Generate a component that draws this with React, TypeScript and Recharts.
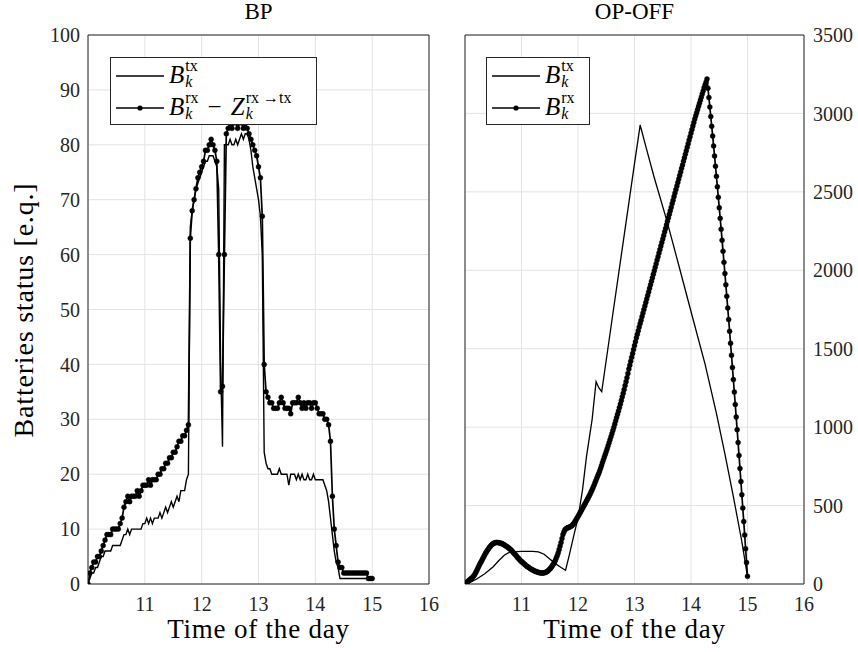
import React from 'react';
import { LineChart, Line, XAxis, YAxis, CartesianGrid, Legend } from 'recharts';

// ---------- data ----------
// Sampling grid: time of day in hours, starting at 10:00
const START_HOUR = 10;
const BP_STEP_MIN = 2; // BP panel sampled every 2 minutes (10:00 .. 15:00)
const OP_STEP_MIN = 1; // OP-OFF B^rx sampled every minute (10:00 .. 15:00)

// BP panel: B_k^tx (plain line)
const bpTx = [
  0, 1, 2, 2, 3, 3, 4, 5, 5, 6,
  6, 6, 6, 7, 7, 7, 7, 7, 8, 9,
  9, 10, 9, 10, 10, 10, 10, 10, 10, 11,
  11, 12, 11, 12, 11, 12, 12, 12, 13, 12,
  13, 14, 13, 14, 15, 14, 15, 16, 15, 17,
  17, 17, 19, 20, 65, 68, 70, 72, 73, 74,
  75, 76, 77, 77, 78, 78, 78, 77, 76, 72,
  40, 25, 80, 80, 80, 81, 80, 80, 81, 80,
  81, 82, 81, 82, 82, 81, 79, 76, 74, 72,
  70, 67, 60, 24, 22, 21, 21, 20, 20, 20,
  20, 21, 20, 20, 20, 20, 18, 20, 20, 20,
  19, 20, 19, 20, 19, 19, 20, 19, 19, 20,
  19, 19, 19, 19, 19, 18, 17, 15, 12, 9,
  6, 4, 3, 1, 1, 1, 1, 1, 1, 1,
  1, 1, 1, 1, 1, 1, 1, 1, 1, 1,
  1,
];

// BP panel: B_k^rx - Z_k^{rx->tx} (line with markers)
const bpRx = [
  0, 2, 3, 4, 4, 5, 5, 6, 7, 8,
  9, 9, 9, 10, 10, 10, 10, 11, 12, 14,
  15, 16, 15, 16, 16, 16, 17, 16, 17, 18,
  18, 18, 19, 18, 19, 19, 19, 20, 20, 21,
  21, 22, 22, 23, 23, 24, 24, 25, 26, 26,
  27, 27, 28, 29, 63, 68, 70, 72, 74, 75,
  76, 77, 79, 79, 80, 81, 80, 79, 77, 60,
  35, 36, 60, 82, 83, 84, 83, 84, 84, 83,
  84, 84, 83, 84, 83, 82, 81, 80, 79, 78,
  76, 74, 67, 40, 35, 34, 33, 33, 32, 32,
  32, 33, 34, 33, 32, 32, 32, 31, 33, 33,
  33, 34, 33, 32, 33, 32, 33, 33, 32, 33,
  33, 32, 31, 31, 31, 30, 30, 29, 26, 16,
  10, 7, 4, 3, 3, 2, 2, 2, 2, 2,
  2, 2, 2, 2, 2, 2, 2, 2, 1, 1,
  1,
];

// OP-OFF panel: B_k^tx (plain line), read at key times
const opTxTime = [
  10.0, 10.1, 10.2, 10.35, 10.5, 10.6, 10.7, 10.8, 11.0, 11.2,
  11.3, 11.4, 11.5, 11.6, 11.7, 11.78, 11.85, 11.92, 12.0, 12.08,
  12.15, 12.25, 12.32, 12.37, 12.42, 12.6, 12.8, 13.0, 13.1, 13.2,
  13.35, 13.57, 13.8, 14.04, 14.25, 14.45, 14.6, 14.75, 14.9, 15.0,
];
const opTxValue = [
  0, 12, 30, 65, 110, 150, 185, 205, 208, 208,
  205, 190, 160, 130, 105, 88, 190, 300, 420, 600,
  812, 1050, 1290, 1250, 1226, 1680, 2180, 2680, 2926, 2790,
  2590, 2320, 2010, 1683, 1400, 1088, 830, 557, 270, 47,
];

// OP-OFF panel: B_k^rx (line with markers), one value per minute
const opRx = [
  0, 5, 10, 16, 22, 27, 32, 37, 42, 50,
  58, 69, 80, 92, 105, 118, 130, 141, 152, 164,
  175, 187, 198, 207, 216, 225, 234, 241, 248, 253,
  258, 261, 263, 264, 265, 264, 263, 262, 260, 258,
  255, 252, 248, 244, 240, 236, 232, 227, 222, 216,
  210, 203, 196, 190, 183, 176, 168, 162, 155, 149,
  143, 138, 133, 128, 122, 117, 112, 108, 104, 100,
  96, 92, 89, 86, 83, 80, 78, 76, 74, 72,
  71, 70, 70, 70, 71, 73, 75, 79, 83, 89,
  95, 102, 110, 119, 128, 140, 152, 167, 182, 200,
  220, 242, 265, 290, 315, 332, 345, 351, 355, 358,
  360, 363, 366, 370, 375, 382, 390, 400, 410, 420,
  430, 441, 452, 463, 474, 485, 496, 507, 518, 529,
  540, 551, 563, 575, 588, 601, 615, 630, 645, 660,
  675, 690, 705, 721, 738, 756, 775, 792, 810, 827,
  845, 863, 882, 901, 920, 939, 958, 978, 998, 1019,
  1040, 1061, 1082, 1103, 1125, 1147, 1170, 1193, 1216, 1240,
  1265, 1290, 1315, 1342, 1370, 1395, 1420, 1445, 1470, 1495,
  1520, 1545, 1570, 1592, 1615, 1638, 1660, 1682, 1705, 1727,
  1750, 1772, 1795, 1817, 1840, 1862, 1885, 1907, 1930, 1952,
  1975, 1997, 2020, 2042, 2065, 2087, 2110, 2132, 2155, 2177,
  2200, 2222, 2245, 2267, 2290, 2312, 2335, 2357, 2380, 2402,
  2425, 2447, 2470, 2492, 2515, 2537, 2560, 2582, 2605, 2627,
  2650, 2672, 2695, 2717, 2740, 2762, 2785, 2807, 2830, 2852,
  2875, 2897, 2920, 2942, 2965, 2985, 3005, 3025, 3045, 3065,
  3085, 3105, 3125, 3145, 3165, 3183, 3200, 3220, 3161, 3101,
  3041, 2980, 2918, 2856, 2793, 2729, 2664, 2599, 2533, 2466,
  2399, 2331, 2262, 2192, 2122, 2051, 1979, 1907, 1834, 1760,
  1686, 1611, 1535, 1458, 1381, 1303, 1224, 1145, 1065, 984,
  902, 820, 737, 653, 569, 484, 398, 312, 225, 137,
  49,
];

const xTickLabels = [11, 12, 13, 14, 15, 16];
const xTicksAll = [10, 11, 12, 13, 14, 15, 16];
const bpYTicks = [0, 10, 20, 30, 40, 50, 60, 70, 80, 90, 100];
const opYTicks = [0, 500, 1000, 1500, 2000, 2500, 3000, 3500];

// ---------- derived tables ----------
const minToHour = (m: number) => START_HOUR + m / 60;
const bpData = bpTx.map((v, i) => ({ t: minToHour(i * BP_STEP_MIN), tx: v, rx: bpRx[i] }));
const opTxData = opTxTime.map((t, i) => ({ t, v: opTxValue[i] }));
const opRxData = opRx.map((v, i) => ({ t: minToHour(i * OP_STEP_MIN), v }));

// ---------- styling ----------
const AX = '#262626';
const GRID = '#e3e3e3';
const FONT = '"Liberation Serif", "Times New Roman", serif';
const tickStyle = { fontSize: 20, fill: AX, fontFamily: FONT };

const MathSym = ({ base, sup, sub }: { base: string; sup: string; sub: string }) => (
  <span style={{ display: 'inline-flex', alignItems: 'flex-start', fontFamily: FONT, color: '#000' }}>
    <span style={{ fontStyle: 'italic', fontSize: 25, lineHeight: '25px' }}>{base}</span>
    <span
      style={{
        display: 'inline-flex',
        flexDirection: 'column',
        fontSize: 16,
        lineHeight: '16px',
        marginLeft: 1,
        marginTop: -4,
      }}
    >
      <span>{sup}</span>
      <span style={{ fontStyle: 'italic' }}>{sub}</span>
    </span>
  </span>
);

const LegendBox = ({ width, rows }: { width: number; rows: { marker: boolean; label: React.ReactNode }[] }) => (
  <div
    style={{
      width,
      height: 68,
      border: `1px solid ${AX}`,
      background: '#fff',
      boxSizing: 'border-box',
      position: 'relative',
    }}
  >
    {rows.map((r, i) => (
      <div
        key={i}
        style={{
          position: 'absolute',
          left: 5,
          top: i === 0 ? 3 : 35,
          height: 30,
          display: 'flex',
          alignItems: 'center',
        }}
      >
        <svg width={48} height={10} style={{ display: 'block' }}>
          <line x1={0} y1={5} x2={48} y2={5} stroke="#000" strokeWidth={1.5} />
          {r.marker && <circle cx={24} cy={5} r={2.6} fill="#000" />}
        </svg>
        <div style={{ marginLeft: 5, display: 'flex', alignItems: 'center' }}>{r.label}</div>
      </div>
    ))}
  </div>
);

const bpLegendRows = [
  { marker: false, label: <MathSym base="B" sup="tx" sub="k" /> },
  {
    marker: true,
    label: (
      <span style={{ display: 'inline-flex', alignItems: 'flex-start' }}>
        <MathSym base="B" sup="rx" sub="k" />
        <span style={{ fontFamily: FONT, fontSize: 25, lineHeight: '25px', margin: '0 9px' }}>−</span>
        <MathSym base="Z" sup="rx →tx" sub="k" />
      </span>
    ),
  },
];
const opLegendRows = [
  { marker: false, label: <MathSym base="B" sup="tx" sub="k" /> },
  { marker: true, label: <MathSym base="B" sup="rx" sub="k" /> },
];

const dotStyle = { r: 2.5, fill: '#000', stroke: '#000', strokeWidth: 0.4 };

const textAbs = (extra: React.CSSProperties): React.CSSProperties => ({
  position: 'absolute',
  fontFamily: FONT,
  color: '#000',
  whiteSpace: 'nowrap',
  ...extra,
});

export default function App() {
  return (
    <div style={{ position: 'absolute', left: 0, top: 0, width: 858, height: 652, background: '#fff', overflow: 'hidden' }}>
      {/* Left panel: BP */}
      <div style={{ position: 'absolute', left: 0, top: 0 }}>
        <LineChart width={440} height={652} data={bpData} margin={{ top: 35, right: 11, bottom: 28, left: 28 }}>
          <CartesianGrid stroke={GRID} strokeWidth={1} />
          <XAxis
            dataKey="t"
            type="number"
            domain={[10, 16]}
            ticks={xTickLabels}
            interval={0}
            allowDataOverflow
            tickLine={false}
            axisLine={false}
            tickSize={0}
            tickMargin={13}
            height={40}
            tick={tickStyle}
          />
          <XAxis xAxisId="bm" type="number" domain={[10, 16]} ticks={xTicksAll} interval={0} orientation="bottom" mirror tick={false} tickSize={5} stroke={AX} />
          <XAxis xAxisId="tm" type="number" domain={[10, 16]} ticks={xTicksAll} interval={0} orientation="top" mirror tick={false} tickSize={5} stroke={AX} />
          <YAxis
            type="number"
            domain={[0, 100]}
            ticks={bpYTicks}
            interval={0}
            allowDataOverflow
            tickLine={false}
            axisLine={false}
            tickSize={0}
            tickMargin={8}
            width={60}
            tick={tickStyle}
          />
          <YAxis yAxisId="lm" type="number" domain={[0, 100]} ticks={bpYTicks} interval={0} orientation="left" mirror tick={false} tickSize={5} stroke={AX} />
          <YAxis yAxisId="rm" type="number" domain={[0, 100]} ticks={bpYTicks} interval={0} orientation="right" mirror tick={false} tickSize={5} stroke={AX} />
          <Line dataKey="tx" name="tx" type="linear" stroke="#000" strokeWidth={1.4} dot={false} isAnimationActive={false} />
          <Line dataKey="rx" name="rx" type="linear" stroke="#000" strokeWidth={1.7} dot={dotStyle} isAnimationActive={false} />
          <Legend
            layout="vertical"
            align="center"
            verticalAlign="middle"
            wrapperStyle={{ left: 110, top: 57, width: 207, height: 68 }}
            content={() => <LegendBox width={207} rows={bpLegendRows} />}
          />
        </LineChart>
      </div>

      {/* Right panel: OP-OFF */}
      <div style={{ position: 'absolute', left: 440, top: 0 }}>
        <LineChart width={418} height={652} margin={{ top: 35, right: 0, bottom: 28, left: 25 }}>
          <CartesianGrid stroke={GRID} strokeWidth={1} />
          <XAxis
            dataKey="t"
            type="number"
            domain={[10, 16]}
            ticks={xTickLabels}
            interval={0}
            allowDataOverflow
            tickLine={false}
            axisLine={false}
            tickSize={0}
            tickMargin={13}
            height={40}
            tick={tickStyle}
          />
          <XAxis xAxisId="bm" type="number" domain={[10, 16]} ticks={xTicksAll} interval={0} orientation="bottom" mirror tick={false} tickSize={5} stroke={AX} />
          <XAxis xAxisId="tm" type="number" domain={[10, 16]} ticks={xTicksAll} interval={0} orientation="top" mirror tick={false} tickSize={5} stroke={AX} />
          <YAxis
            type="number"
            orientation="right"
            domain={[0, 3500]}
            ticks={opYTicks}
            interval={0}
            allowDataOverflow
            tickLine={false}
            axisLine={false}
            tickSize={0}
            tickMargin={9}
            width={54}
            tick={{ ...tickStyle, textAnchor: 'start' }}
          />
          <YAxis yAxisId="lm" type="number" domain={[0, 3500]} ticks={opYTicks} interval={0} orientation="left" mirror tick={false} tickSize={5} stroke={AX} />
          <YAxis yAxisId="rm" type="number" domain={[0, 3500]} ticks={opYTicks} interval={0} orientation="right" mirror tick={false} tickSize={5} stroke={AX} />
          <Line data={opTxData} dataKey="v" name="tx" type="linear" stroke="#000" strokeWidth={1.3} dot={false} isAnimationActive={false} />
          <Line data={opRxData} dataKey="v" name="rx" type="linear" stroke="#000" strokeWidth={1.7} dot={dotStyle} isAnimationActive={false} />
          <Legend
            layout="vertical"
            align="center"
            verticalAlign="middle"
            wrapperStyle={{ left: 46, top: 57, width: 104, height: 68 }}
            content={() => <LegendBox width={104} rows={opLegendRows} />}
          />
        </LineChart>
      </div>

      {/* Titles and axis labels */}
      <div style={textAbs({ left: 88, top: 0, width: 341, textAlign: 'center', fontSize: 23, lineHeight: '24px' })}>BP</div>
      <div style={textAbs({ left: 465, top: 0, width: 339, textAlign: 'center', fontSize: 23, lineHeight: '24px' })}>OP-OFF</div>
      <div style={textAbs({ left: 88, top: 616, width: 341, textAlign: 'center', fontSize: 27, lineHeight: '27px', letterSpacing: 0.8 })}>
        Time of the day
      </div>
      <div style={textAbs({ left: 465, top: 616, width: 339, textAlign: 'center', fontSize: 27, lineHeight: '27px', letterSpacing: 0.8 })}>
        Time of the day
      </div>
      <div
        style={textAbs({
          left: 23.5 - 160,
          top: 310 - 14,
          width: 320,
          height: 28,
          textAlign: 'center',
          fontSize: 28,
          lineHeight: '28px',
          letterSpacing: 0.8,
          transform: 'rotate(-90deg)',
        })}
      >
        Batteries status [e.q.]
      </div>
    </div>
  );
}
